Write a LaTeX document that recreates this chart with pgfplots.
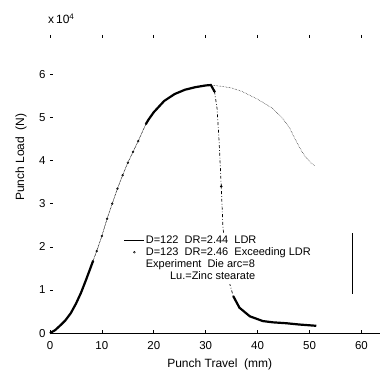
\documentclass[border=0pt]{standalone}
\usepackage{fontspec}
\setmainfont{Liberation Sans}
\usepackage{pgfplots}
\pgfplotsset{compat=1.18}
\usepackage{pgfplotstable}

% Series 1: D=122, DR=2.44 (LDR) -- punch travel (mm), punch load (N)
\pgfplotstableread{
x y
0 0
1 700
2 1800
3 3000
4 4600
5 6800
6 9400
7 12500
8 15800
9 19000
10 22500
11 26500
12 30000
13 33500
14 36600
15 39500
16 42000
17 44500
18 47200
19 49500
20 51200
22 53800
24 55400
26 56400
28 57000
30 57400
31 57500
33 57200
35 56800
37 56000
40 54200
43 52000
45 49500
46.2 47500
47 45500
48.1 43000
49 41200
50.3 39400
51 38800
}\ldr

% Series 2: D=123, DR=2.46 (exceeding LDR), in pieces by line style
\pgfplotstableread{
x y
0 0
1 700
2 1800
3 3000
4 4600
5 6800
6 9400
7 12500
8.3 16700
}\exA
\pgfplotstableread{
x y
8.3 16700
9 19000
10 22500
11 26500
12 30000
13 33500
14 36600
15 39500
16 42000
17 44500
18.5 48500
}\exB
\pgfplotstableread{
x y
18.5 48500
19 49500
20 51200
22 53800
24 55400
26 56400
28 57000
30 57400
31 57500
31.7 56000
}\exC
\pgfplotstableread{
x y
31.7 56000
32.2 52000
32.6 44000
33.0 34000
33.3 25200
33.8 18000
34.5 12000
35.3 8600
}\exD
\pgfplotstableread{
x y
35.3 8600
36.5 5900
38.5 3900
41 2800
43 2500
45.5 2300
48 2000
51.3 1700
}\exE

\begin{document}
\begin{tikzpicture}
\begin{axis}[
  scale only axis,
  width=330pt, height=298.5pt,
  xmin=0, xmax=63.5,
  ymin=0, ymax=69100,
  xtick={0,10,...,60},
  ytick={0,10000,20000,30000,40000,50000,60000},
  yticklabels={0,1,2,3,4,5,6},
  scaled y ticks=false,
  /pgf/number format/assume math mode=true,
  axis line style={draw=none},
  tick style={black, line width=0.6pt},
  major tick length=3pt,
  tick align=inside,
  xtick pos=both,
  ytick pos=left,
  tick label style={font=\fontsize{11.5}{13}\selectfont},
  xticklabel style={yshift=-5pt},
  yticklabel style={xshift=-1pt},
  label style={font=\fontsize{12}{14}\selectfont},
  xlabel={Punch Travel\ \ (mm)},
  xlabel style={at={(rel axis cs:0.515,0)}, anchor=center, yshift=-31pt},
  ylabel={Punch Load\ \ (N)},
  ylabel style={at={(rel axis cs:-0.088,0.59)}, anchor=center},
  legend style={at={(rel axis cs:0.215,0.337)}, anchor=north west,
    draw=none, fill=white, font=\fontsize{11}{12}\selectfont,
    nodes={inner sep=1pt}, row sep=0.5pt},
  legend cell align=left,
  legend image code/.code={\draw[#1] (0pt,0pt) -- (20pt,0pt);},
  clip=false,
]
\addplot[black, line width=0.5pt, densely dotted, forget plot] table {\ldr};
\addplot[black, line width=2.2pt, forget plot] table {\exA};
\addplot[black, line width=0.5pt, densely dotted, mark=o, mark size=0.9pt, mark options={solid}, forget plot] table {\exB};
\addplot[black, line width=2.2pt, forget plot] table {\exC};
\addplot[black, line width=0.7pt, dashdotted, mark=o, mark size=0.9pt, mark repeat=3, mark options={solid}, forget plot] table {\exD};
\addplot[black, line width=2.2pt, forget plot] table {\exE};

\addlegendimage{black, line width=0.9pt}
\addlegendentry{D=122\ \ DR=2.44\ \ LDR}
\addlegendimage{black, legend image code/.code={\draw[black, line width=0.5pt] (10pt,0pt) circle (0.9pt);}}
\addlegendentry{D=123\ \ DR=2.46\ \ Exceeding LDR}
\addlegendimage{empty legend}
\addlegendentry{Experiment\ \ Die arc=8}
\addlegendimage{empty legend}
\addlegendentry{\hspace{2.2em}Lu.=Zinc stearate}

\draw[black, line width=0.8pt] (rel axis cs:0,0) -- (rel axis cs:1,0);
\draw[black, line width=0.8pt] (axis cs:58.3,23100) -- (axis cs:58.3,9000);
\node[anchor=south west, inner sep=0pt, font=\fontsize{12}{14}\selectfont]
  at ([xshift=-2pt, yshift=11pt]rel axis cs:0,1) {x\,10\textsuperscript{4}};
\end{axis}
\path (current axis.south west) ++(-50pt,-37.5pt) coordinate (bb1);
\path (current axis.north east) ++(0pt,35pt) coordinate (bb2);
\path (bb1) rectangle (bb2);
\end{tikzpicture}
\end{document}
